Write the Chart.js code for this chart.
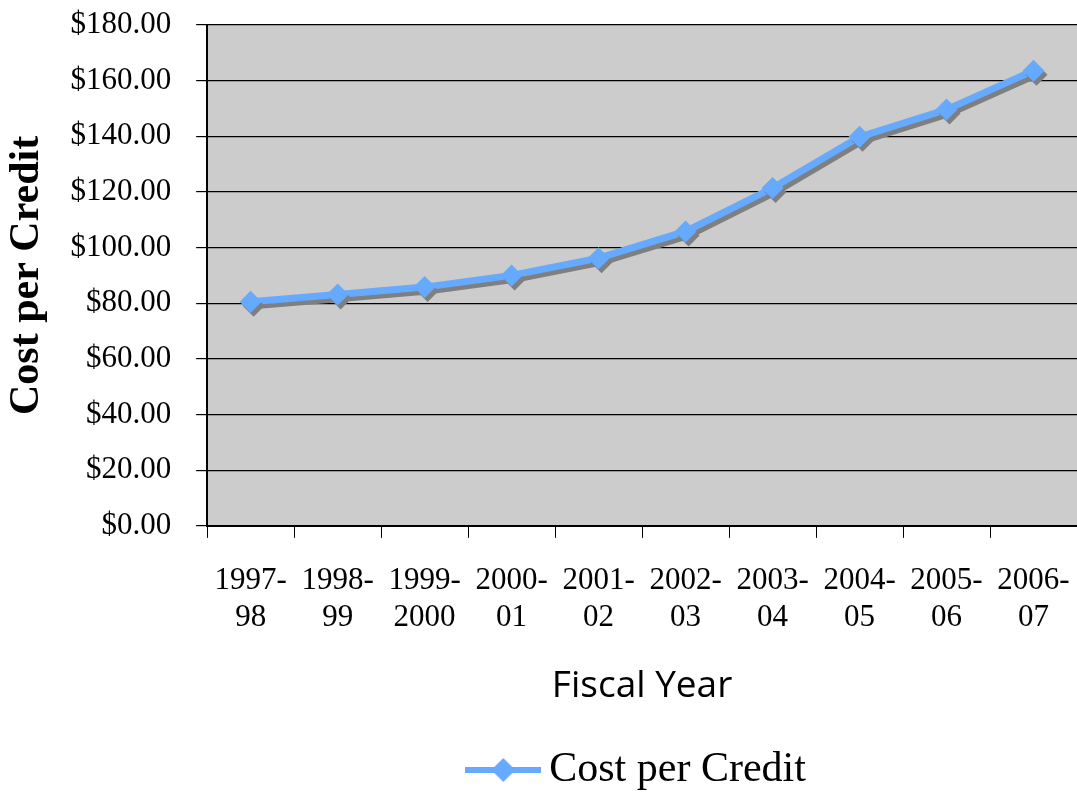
<!DOCTYPE html>
<html>
<head>
<meta charset="utf-8">
<script src="https://cdn.jsdelivr.net/npm/chart.js@4"></script>
<style>
  html, body { margin: 0; padding: 0; background: #fff; }
  #wrap { width: 1077px; height: 795px; }
</style>
</head>
<body>
<div id="wrap"><canvas id="chart"></canvas></div>
<script>
const fiscalYears = [
  ['1997-', '98'], ['1998-', '99'], ['1999-', '2000'], ['2000-', '01'], ['2001-', '02'],
  ['2002-', '03'], ['2003-', '04'], ['2004-', '05'], ['2005-', '06'], ['2006-', '07']
];
const costPerCredit = [80.5, 83.1, 85.8, 90.0, 96.2, 105.8, 121.4, 139.8, 149.6, 163.6];

const lineColor = '#66aaff';

// legend icon: line with a diamond in the middle
function legendIcon() {
  const c = document.createElement('canvas');
  c.width = 76; c.height = 26;
  const g = c.getContext('2d');
  g.strokeStyle = lineColor;
  g.lineWidth = 6;
  g.beginPath(); g.moveTo(0, 13); g.lineTo(76, 13); g.stroke();
  g.fillStyle = lineColor;
  g.beginPath(); g.moveTo(38, 1); g.lineTo(50, 13); g.lineTo(38, 25); g.lineTo(26, 13); g.closePath(); g.fill();
  return c;
}

const plotBg = {
  id: 'plotBg',
  beforeDraw(chart) {
    const { ctx, chartArea: a } = chart;
    ctx.save();
    ctx.fillStyle = '#cccccc';
    ctx.fillRect(a.left, a.top, a.right - a.left, a.bottom - a.top);
    ctx.restore();
  }
};

const lineShadow = {
  id: 'lineShadow',
  beforeDatasetDraw(chart) {
    const ctx = chart.ctx;
    ctx.save();
    ctx.shadowColor = '#7f7f7f';
    ctx.shadowOffsetX = 3;
    ctx.shadowOffsetY = 4;
    ctx.shadowBlur = 0;
  },
  afterDatasetDraw(chart) {
    chart.ctx.restore();
  }
};

new Chart(document.getElementById('chart'), {
  type: 'line',
  data: {
    labels: fiscalYears,
    datasets: [{
      label: 'Cost per Credit',
      data: costPerCredit,
      borderColor: lineColor,
      backgroundColor: lineColor,
      borderWidth: 7,
      pointStyle: 'rectRot',
      pointRadius: 11,
      pointBorderWidth: 0,
      pointBackgroundColor: lineColor,
      tension: 0,
      fill: false
    }]
  },
  options: {
    responsive: true,
    maintainAspectRatio: false,
    animation: false,
    layout: { autoPadding: false, padding: { left: 2, right: 0, top: 25, bottom: 0 } },
    plugins: {
      tooltip: { enabled: false },
      legend: {
        position: 'bottom',
        fullSize: false,
        maxHeight: 46,
        labels: {
          usePointStyle: true,
          pointStyle: legendIcon(),
          pointStyleWidth: 50,
          color: '#000',
          font: { family: 'Liberation Serif', size: 42, lineHeight: 0.7 },
          padding: 0
        }
      }
    },
    scales: {
      x: {
        offset: true,
        afterFit(s) { s.paddingLeft = 0; s.paddingRight = 0; },
        grid: { offset: true, drawOnChartArea: false, color: '#000', tickLength: 12 },
        border: { color: '#000', width: 2 },
        ticks: {
          color: '#000',
          font: { family: 'Liberation Serif', size: 31, lineHeight: 1.19 },
          maxRotation: 0,
          autoSkip: false,
          padding: 25
        },
        title: {
          display: true,
          text: 'Fiscal Year',
          color: '#000',
          font: { family: 'Open Sans', size: 37 },
          padding: { top: 3, bottom: 40 }
        }
      },
      y: {
        min: 0,
        max: 180,
        afterFit(s) { s.paddingTop = 0; },
        grid: { color: '#000', lineWidth: 1.2, tickLength: 11 },
        border: { color: '#000', width: 2 },
        ticks: {
          stepSize: 20,
          color: '#000',
          font: { family: 'Liberation Serif', size: 31 },
          padding: 25,
          callback: v => '$' + v.toFixed(2)
        },
        title: {
          display: true,
          text: 'Cost per Credit',
          color: '#000',
          font: { family: 'Liberation Serif', size: 42, weight: 'bold' },
          padding: { top: 0, bottom: -7 }
        }
      }
    }
  },
  plugins: [plotBg, lineShadow]
});
</script>
</body>
</html>
